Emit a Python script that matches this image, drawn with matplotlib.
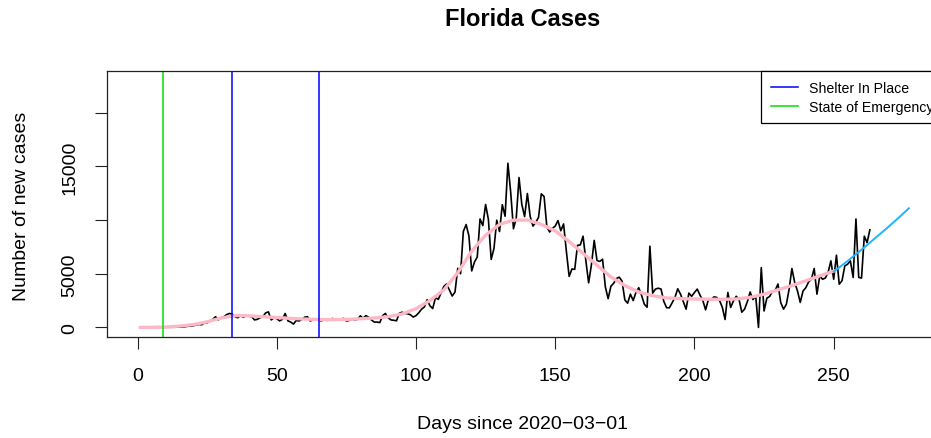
import numpy as np
import matplotlib
matplotlib.use("Agg")
import matplotlib.pyplot as plt

plt.rcParams['font.family'] = ['Liberation Sans', 'DejaVu Sans']

# daily new cases, day 1 .. 263 (days since 2020-03-01)
cases = [
    0, 1, 0, 1, 2, 2, 3, 3, 4, 4,
    10, 12, 18, 25, 30, 45, 60, 110, 130, 150,
    230, 280, 250, 400, 430, 600, 750, 1000, 700, 900,
    1000, 1200, 1300, 1250, 1000, 900, 1100, 950, 1100, 1050,
    1000, 700, 750, 900, 1000, 1350, 1450, 700, 900, 820,
    610, 750, 1300, 610, 500, 310, 650, 600, 750, 950,
    1000, 610, 700, 770, 680, 610, 750, 660, 700, 840,
    700, 770, 750, 840, 600, 650, 770, 700, 750, 1080,
    850, 1100, 950, 700, 500, 500, 450, 1100, 1300, 900,
    700, 667, 617, 1317, 1419, 1305, 1270, 1180, 966, 1096,
    1371, 1698, 1902, 2581, 2016, 1758, 2783, 2610, 3207, 3822,
    4049, 3494, 2926, 3289, 5508, 5004, 8942, 9585, 8530, 5266,
    6093, 6563, 10109, 9488, 11458, 10059, 6336, 7347, 9989, 8935,
    11433, 10360, 15300, 12624, 9194, 10181, 13965, 11466, 10328, 12478,
    10347, 9440, 9785, 10249, 12444, 12199, 9344, 8892, 9230, 9446,
    9956, 9007, 9642, 7104, 4752, 5446, 5409, 7650, 7686, 8502,
    6229, 4155, 5831, 8109, 6236, 6148, 6352, 3779, 2678, 3838,
    4115, 4555, 4684, 4311, 2564, 2258, 3100, 2500, 3270, 3700,
    3000, 2160, 1885, 7569, 3198, 3571, 3656, 3573, 2423, 1838,
    1827, 2300, 2800, 3600, 3100, 2400, 1700, 3200, 2900, 3250,
    3573, 3005, 2521, 1640, 2590, 2590, 2847, 2795, 2521, 1882,
    738, 3260, 1860, 2470, 2900, 2630, 1420, 1700, 2400, 3300,
    2600, 2900, 0, 5570, 1533, 2725, 2883, 3356, 3449, 4044,
    2300, 1707, 2145, 3560, 5490, 4190, 3400, 2330, 3400, 3700,
    4240, 4500, 5490, 3100, 4800, 4490, 4600, 5120, 6200, 4490,
    6730, 4030, 4350, 5730, 5890, 6200, 4650, 10105, 4660, 4600,
    8500, 7900, 9100,
]
days = np.arange(1, len(cases) + 1)

# smoothed trend
smooth_days = [1, 5, 10, 15, 20, 25, 30, 35, 40, 45, 50, 55, 60, 65, 70, 75, 80, 85,
               90, 95, 100, 105, 110, 115, 120, 125, 130, 135, 140, 145, 150, 155,
               160, 165, 170, 175, 180, 185, 190, 195, 200, 205, 210, 215, 220, 225,
               230, 235, 240, 245, 250]
smooth_vals = [0, 10, 40, 120, 260, 520, 880, 1100, 1080, 1000, 920, 840, 780, 740,
               730, 750, 800, 880, 1000, 1250, 1750, 2500, 3500, 5100, 7100, 8600,
               9600, 10000, 10000, 9600, 9000, 8000, 6900, 5800, 4700, 3900, 3300,
               2950, 2750, 2680, 2650, 2630, 2620, 2650, 2800, 3100, 3500, 3900,
               4350, 4800, 5250]

# forecast
fc_days = np.arange(250, 278)
fc_vals = [5200, 5390, 5590, 5790, 5990, 6190, 6400, 6610, 6820, 7030, 7240, 7460,
           7680, 7900, 8120, 8340, 8560, 8780, 9000, 9220, 9450, 9680, 9910, 10140,
           10380, 10620, 10860, 11100]

shelter_days = [34, 65]
emergency_day = 9

W, H = 931, 439
fig = plt.figure(figsize=(W / 100, H / 100), dpi=100)
left, right, top, bottom = 106.7, 939.7, 71.7, 338.3
ax = fig.add_axes([left / W, 1 - bottom / H, (right - left) / W, (bottom - top) / H])

ax.plot(days, cases, color='black', lw=1.2)
ax.plot(smooth_days, smooth_vals, color='#FDB8C6', lw=2.4)
ax.plot(fc_days, fc_vals, color='#1EB4FF', lw=1.4)
for d in shelter_days:
    ax.axvline(d, color='blue', lw=1.1)
ax.axvline(emergency_day, color='#00E000', lw=1.1)

ax.set_xlim(-11.08, 288.08)
ax.set_ylim(-920, 23920)
ax.set_xticks([0, 50, 100, 150, 200, 250])
ax.set_yticks([0, 5000, 10000, 15000, 20000])
ax.set_yticklabels(['0', '5000', '', '15000', ''], rotation=90, va='center')
ax.tick_params(length=8.6, width=0.8, labelsize=14, color='#222222')
ax.tick_params(axis='x', pad=13)
ax.tick_params(axis='y', pad=12)
for s in ax.spines.values():
    s.set_linewidth(0.9)
    s.set_color('#222222')

# legend box starts at a fixed spot and runs off the right edge, as in the original
h1, = ax.plot([], [], color='blue', lw=1.1)
h2, = ax.plot([], [], color='#00E000', lw=1.1)
leg = ax.legend([h1, h2], ['Shelter In Place', 'State of Emergency'],
                loc='upper left', bbox_to_anchor=(760.7 / W, 1 - 71.7 / H),
                bbox_transform=fig.transFigure, borderaxespad=0,
                fontsize=10.2, handlelength=1.9, handletextpad=0.8,
                borderpad=0.7, labelspacing=0.35, fancybox=False, framealpha=1)
leg.get_frame().set_edgecolor('black')
leg.get_frame().set_linewidth(0.9)

fig.text(523 / W, 1 - 20 / H, 'Florida Cases', ha='center', va='center',
         fontsize=17, fontweight='bold')
fig.text(522.5 / W, 1 - 425 / H, 'Days since 2020\u221203\u221201', ha='center',
         va='center', fontsize=14)
fig.text(22 / W, 1 - 206 / H, 'Number of new cases', ha='center', va='center',
         rotation=90, fontsize=14)

fig.savefig('out.png', dpi=100)
